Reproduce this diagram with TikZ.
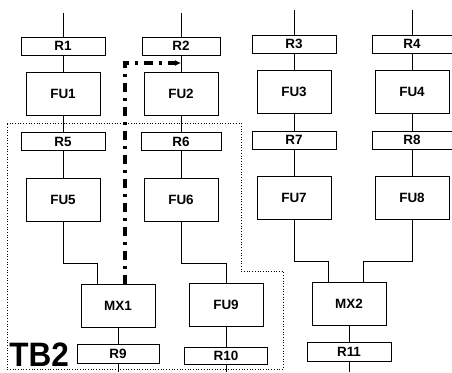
\documentclass[tikz,border=0pt]{standalone}
\usepackage{fontspec}
\setmainfont{Liberation Sans}
\usetikzlibrary{arrows.meta}
\begin{document}
\begin{tikzpicture}[x=1bp,y=-1bp, line width=0.9bp,
  txt/.style={font=\bfseries\fontsize{13.5}{14}\selectfont},
  reg/.style={draw, txt, inner sep=0pt, minimum width=84bp, minimum height=18bp},
  fu/.style={draw, txt, inner sep=0pt, minimum width=74bp, minimum height=43bp},
  wire/.style={draw, line width=0.9bp},
  tbbox/.style={draw, dotted, line width=0.7bp},
  flow/.style={draw, line width=3.2bp, dash pattern=on 9bp off 6bp on 3bp off 6bp, -{Latex[length=6bp,width=6bp]}}]
\useasboundingbox (0,0) rectangle (452,372);

% TB2 dotted region
\draw[tbbox] (7,123) -- (241,123) -- (241,271) -- (283,271) -- (283,369) -- (7,369) -- cycle;

% column 1
\node[reg] (R1) at (63,46) {R1};
\node[fu]  (FU1) at (63,93.5) {FU1};
\node[reg] (R5) at (63,141.5) {R5};
\node[fu]  (FU5) at (63,200) {FU5};
% column 2
\node[reg, minimum width=78bp] (R2) at (181,46) {R2};
\node[fu]  (FU2) at (181,93.5) {FU2};
\node[reg, minimum width=80bp] (R6) at (181,141.5) {R6};
\node[fu]  (FU6) at (181,200) {FU6};
% column 3
\node[reg] (R3) at (294,44) {R3};
\node[fu]  (FU3) at (294,91.5) {FU3};
\node[reg] (R7) at (294,140) {R7};
\node[fu]  (FU7) at (294,198) {FU7};
% column 4
\node[reg, minimum width=80bp] (R4) at (412,44) {R4};
\node[fu]  (FU4) at (412,91.5) {FU4};
\node[reg, minimum width=80bp] (R8) at (412,140) {R8};
\node[fu]  (FU8) at (412,198) {FU8};
% lower row
\node[fu]  (MX1) at (118,305.5) {MX1};
\node[fu]  (FU9) at (226,304.5) {FU9};
\node[fu]  (MX2) at (349,303.5) {MX2};
\node[reg, minimum width=82bp, minimum height=19bp] (R9) at (118,353.5) {R9};
\node[reg, minimum width=83bp, minimum height=17bp] (R10) at (226,355.5) {R10};
\node[reg, minimum height=19bp] (R11) at (349,351.5) {R11};

\node[font=\bfseries\fontsize{34}{34}\selectfont, xscale=0.93, anchor=base west, inner sep=0pt] (TB2) at (9,366) {TB2};

% free ends
\coordinate (t1) at (63,13);
\coordinate (t2) at (181,13);
\coordinate (t3) at (294,10);
\coordinate (t4) at (412,10);
\coordinate (b9) at (118,372);
\coordinate (b10) at (226,372);
\coordinate (b11) at (349,372);
\coordinate (tap) at (181,63);

% column wires
\draw[wire] (t1) -- (R1) -- (FU1) -- (R5) -- (FU5);
\draw[wire] (t2) -- (R2) -- (FU2) -- (R6) -- (FU6);
\draw[wire] (t3) -- (R3) -- (FU3) -- (R7) -- (FU7);
\draw[wire] (t4) -- (R4) -- (FU4) -- (R8) -- (FU8);

\draw[wire] (FU5.south) -- (FU5.south |- 0,263) -| ([xshift=-21bp]MX1.north);
\draw[wire] (FU6.south) -- (FU6.south |- 0,263) -| (FU9.north);
\draw[wire] (FU7.south) -- (FU7.south |- 0,261) -| ([xshift=-21bp]MX2.north);
\draw[wire] (FU8.south) -- (FU8.south |- 0,261) -| ([xshift=14bp]MX2.north);

\draw[wire] (MX1) -- (R9) -- (b9);
\draw[wire] (FU9) -- (R10) -- (b10);
\draw[wire] (MX2) -- (R11) -- (b11);

% feedback path
\draw[flow] ([xshift=7bp]MX1.north) |- (tap);
\end{tikzpicture}
\end{document}
